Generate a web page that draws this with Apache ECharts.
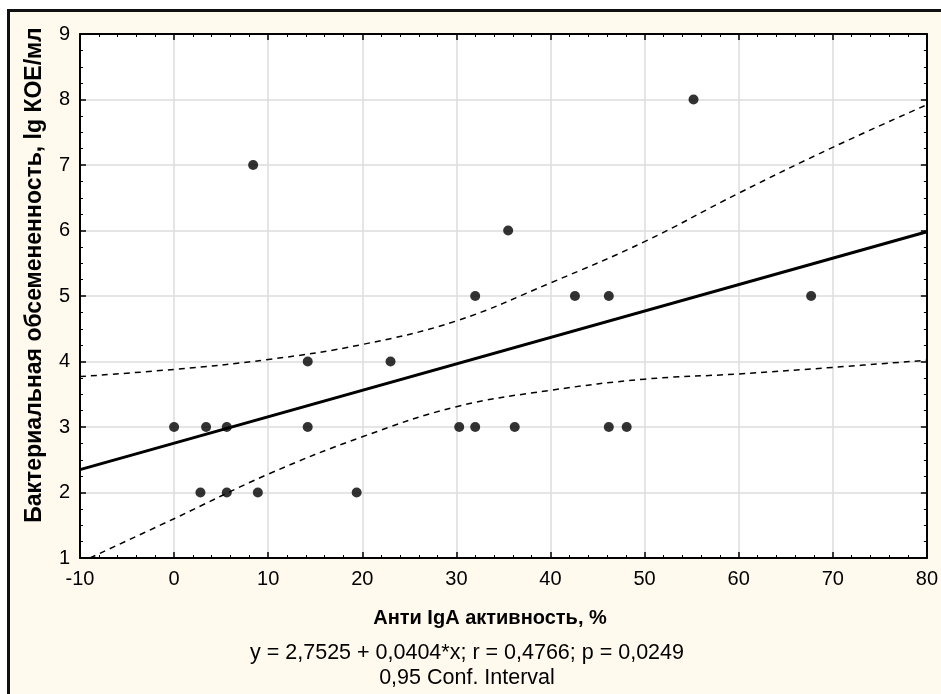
<!DOCTYPE html>
<html lang="ru">
<head>
    <meta charset="utf-8">
    <title>Анти IgA активность</title>
    <script src="https://cdn.jsdelivr.net/npm/echarts@6/dist/echarts.min.js"></script>
    <style>
        html, body { margin: 0; padding: 0; background: #fff; overflow: hidden; }
        #frame { position: absolute; left: 7px; top: 9px; width: 1000px; height: 800px;
                 background: #FFF9EE; border-left: 3px solid #111; border-top: 3px solid #111; }
        #main { position: absolute; left: 0; top: 0; width: 941px; height: 694px; }
    </style>
</head>
<body>
<div id="frame"></div>
<div id="main"></div>

<script type="text/javascript">
    // точки наблюдений
    var ptX = [0, 3.4, 5.6, 2.8, 5.6, 8.9, 8.4, 14.2, 14.2, 19.4, 23.0,
               30.3, 32.0, 32.0, 35.5, 36.2, 42.6, 46.2, 46.2, 48.1, 55.2, 67.7];
    var ptY = [3, 3, 3, 2, 2, 2, 7, 4, 3, 2, 4,
               3, 3, 5, 6, 3, 5, 5, 3, 3, 8, 5];

    // линия регрессии (концы)
    var fitX = [-10, 80];
    var fitY = [2.35, 5.98];

    // 95% доверительный интервал
    var bandX = [-10, 0, 10, 20, 30, 40, 50, 60, 70, 80];
    var upperY = [3.77, 3.88, 4.03, 4.26, 4.62, 5.20, 5.83, 6.57, 7.27, 7.92];
    var lowerY = [0.93, 1.60, 2.28, 2.85, 3.31, 3.56, 3.73, 3.81, 3.91, 4.02];

    var zip = function (xs, ys) {
        return xs.map(function (x, i) { return [x, ys[i]]; });
    };

    var font = 'Arial, "Liberation Sans", sans-serif';
    var tickStyle = { show: true, inside: true, length: 6, lineStyle: { color: '#000', width: 1.5 } };
    var lineStyle = { show: true, onZero: false, lineStyle: { color: '#000', width: 2 } };

    var myChart = echarts.init(document.getElementById('main'));

    myChart.setOption({
        backgroundColor: 'transparent',
        animation: false,
        grid: {
            left: 80, top: 34, right: 6, bottom: 136,
            show: true, backgroundColor: '#fff', borderWidth: 0
        },
        xAxis: [{
            type: 'value', position: 'bottom',
            min: -10, max: 80, interval: 10,
            axisLine: lineStyle,
            axisTick: tickStyle,
            minorTick: { show: true, splitNumber: 5, length: 3, lineStyle: { color: '#000', width: 1 } },
            axisLabel: { color: '#000', fontSize: 20, fontFamily: font, margin: 11 },
            splitLine: { show: true, lineStyle: { color: '#dcdcdc', width: 1.5 } }
        }, {
            type: 'value', position: 'top',
            min: -10, max: 80, interval: 10,
            axisLine: lineStyle,
            axisTick: tickStyle,
            minorTick: { show: true, splitNumber: 5, length: 3, lineStyle: { color: '#000', width: 1 } },
            axisLabel: { show: false },
            splitLine: { show: false }
        }],
        yAxis: [{
            type: 'value', position: 'left',
            min: 1, max: 9, interval: 1,
            axisLine: lineStyle,
            axisTick: tickStyle,
            minorTick: { show: true, splitNumber: 4, length: 3, lineStyle: { color: '#000', width: 1 } },
            axisLabel: { color: '#000', fontSize: 20, fontFamily: font, margin: 10 },
            splitLine: { show: true, lineStyle: { color: '#dcdcdc', width: 1.5 } }
        }, {
            type: 'value', position: 'right',
            min: 1, max: 9, interval: 1,
            axisLine: lineStyle,
            axisTick: tickStyle,
            minorTick: { show: true, splitNumber: 4, length: 3, lineStyle: { color: '#000', width: 1 } },
            axisLabel: { show: false },
            splitLine: { show: false }
        }],
        graphic: [{
            type: 'text', x: 35, y: 275, rotation: Math.PI / 2,
            style: {
                text: 'Бактериальная обсемененность, lg КОЕ/мл',
                fill: '#000', font: 'bold 23px ' + font,
                textAlign: 'center', textVerticalAlign: 'middle'
            }
        }, {
            type: 'text', x: 490, y: 618,
            style: {
                text: 'Анти IgA активность, %',
                fill: '#000', font: 'bold 20px ' + font,
                textAlign: 'center', textVerticalAlign: 'middle'
            }
        }, {
            type: 'text', x: 467, y: 653,
            style: {
                text: 'y = 2,7525 + 0,0404*x; r = 0,4766; p = 0,0249',
                fill: '#000', font: '21.5px ' + font,
                textAlign: 'center', textVerticalAlign: 'middle'
            }
        }, {
            type: 'text', x: 467, y: 678,
            style: {
                text: '0,95 Conf. Interval',
                fill: '#000', font: '21.5px ' + font,
                textAlign: 'center', textVerticalAlign: 'middle'
            }
        }],
        series: [{
            name: 'upper', type: 'line', smooth: 0.4, symbol: 'none', clip: true,
            data: zip(bandX, upperY),
            lineStyle: { color: '#000', width: 1.5, type: [6, 5] }
        }, {
            name: 'lower', type: 'line', smooth: 0.4, symbol: 'none', clip: true,
            data: zip(bandX, lowerY),
            lineStyle: { color: '#000', width: 1.5, type: [6, 5] }
        }, {
            name: 'fit', type: 'line', symbol: 'none', clip: true,
            data: zip(fitX, fitY),
            lineStyle: { color: '#000', width: 3 }
        }, {
            name: 'points', type: 'scatter', symbol: 'circle', symbolSize: 10,
            data: zip(ptX, ptY),
            itemStyle: { color: '#000' }
        }]
    });
</script>
</body>
</html>
